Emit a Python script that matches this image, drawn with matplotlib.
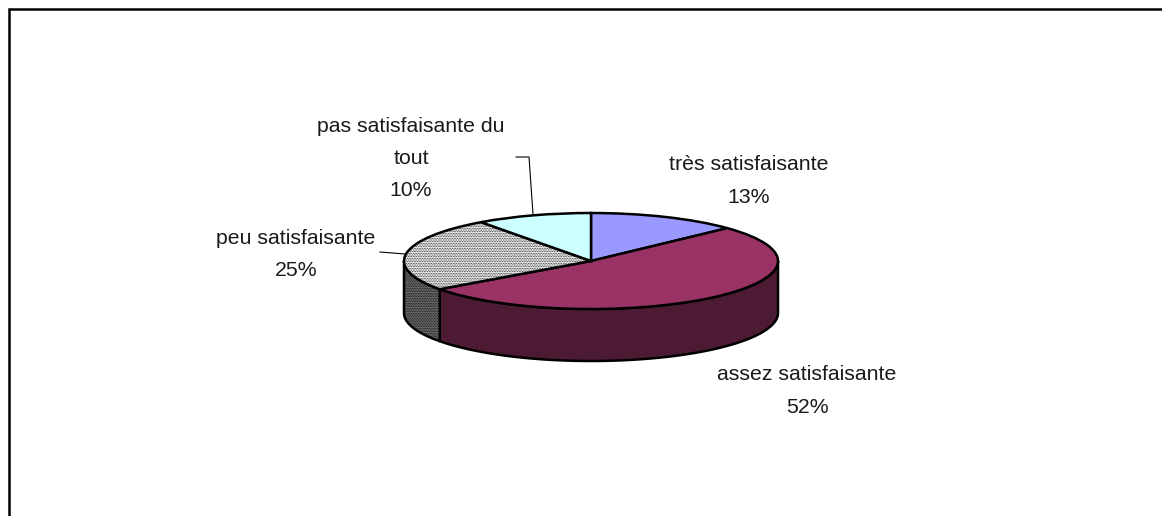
import numpy as np
import matplotlib
matplotlib.use("Agg")
import matplotlib.pyplot as plt

plt.rcParams['font.family'] = ['Liberation Sans', 'DejaVu Sans']
plt.rcParams['hatch.linewidth'] = 0.4
plt.rcParams['hatch.color'] = '#d2d2d2'

labels = ["très satisfaisante", "assez satisfaisante", "peu satisfaisante", "pas satisfaisante du\ntout"]
values = [13, 52, 25, 10]
top_colors = ["#9999ff", "#993366", "#eeeeee", "#ccffff"]
side_colors = ["#4c4c80", "#4d1a33", "#6a6a6a", "#668080"]
label_pos = [(749, 165), (807, 375), (296, 238), (411, 126)]

W, H = 1162, 516
cx, cy, rx, ry, depth = 591, 261, 187, 48, 52

fig = plt.figure(figsize=(W / 100, H / 100), dpi=100)
ax = fig.add_axes([0, 0, 1, 1])

# side walls, only the lower half of the ellipse shows
ends = np.cumsum(values) / np.sum(values) * 2 * np.pi
starts = np.r_[0, ends[:-1]]
d = depth / ry
for a, b, c in zip(starts, ends, side_colors):
    a2, b2 = max(a, np.pi / 2), min(b, 3 * np.pi / 2)
    if b2 <= a2:
        continue
    t = np.linspace(a2, b2, 100)
    x = np.sin(t)
    y = np.cos(t)
    ax.fill(np.r_[x, x[::-1]], np.r_[y, y[::-1] - d], facecolor=c,
            edgecolor='black', linewidth=1.8, joinstyle='round',
            hatch='..........' if c == "#6a6a6a" else None, zorder=1)

wedges, _ = ax.pie(values, colors=top_colors, startangle=90, counterclock=False,
                   wedgeprops=dict(edgecolor='black', linewidth=1.8))
for w in wedges:
    w.set_zorder(2)
wedges[2].set_hatch('..........')

ax.set_aspect('auto')
ax.set_xlim(-cx / rx, (W - cx) / rx)
ax.set_ylim(-(H - cy) / ry, cy / ry)

# overlay in picture pixels for frame, leaders and text
ov = fig.add_axes([0, 0, 1, 1])
ov.set_xlim(0, W)
ov.set_ylim(H, 0)
ov.axis('off')
ov.patch.set_alpha(0)

ov.plot([9, 9, W], [H, 9, 9], color='black', lw=1.8, solid_joinstyle='miter')
ov.plot([380, 405], [252, 254], color='black', lw=0.8)
ov.plot([516, 529, 533], [157, 157, 214], color='black', lw=0.8)

for lab, v, (x, y) in zip(labels, values, label_pos):
    lines = lab.split("\n") + [f"{v}%"]
    for i, s in enumerate(lines):
        ov.text(x, y + 32.5 * i, s, ha='center', va='center', fontsize=15.3, color='#1a1a1a')

fig.savefig("out.png", dpi=100)
